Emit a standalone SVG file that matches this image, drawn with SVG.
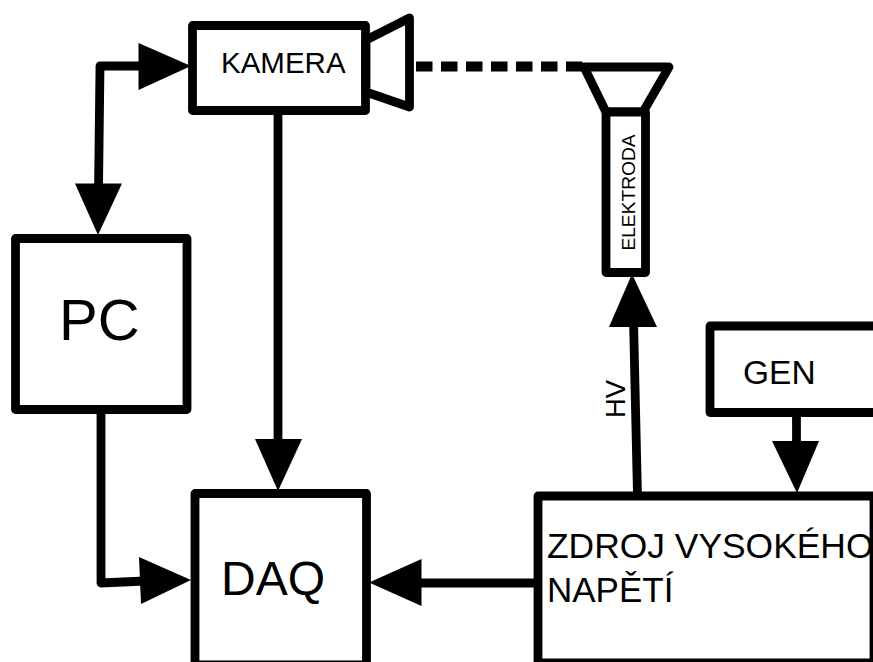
<svg xmlns="http://www.w3.org/2000/svg" width="873" height="662" viewBox="0 0 873 662">
<style>
.b{fill:#fff;stroke:#000;stroke-width:8.8;stroke-linejoin:round}
.l{fill:none;stroke:#000;stroke-width:8.8;stroke-linejoin:round}
.h{fill:#000;stroke:none}
text{font-family:"Liberation Sans",Arial,sans-serif;fill:#000}
</style>
<rect width="873" height="662" fill="#fff"/>
<g id="connectors">
<path class="l" d="M145 66H100L98.500 190"/>
<path class="h" d="M138.500 43L191 66L138.500 90Z"/>
<path class="h" d="M75 183.500H122L98 235Z"/>
<path class="l" d="M278 110V445"/>
<path class="h" d="M255 439H302L278 491Z"/>
<path class="l" d="M101 410V583L145 581"/>
<path class="h" d="M139 557L191 580L141 604Z"/>
<path class="l" d="M538 583H415"/>
<path class="h" d="M421.500 559V606L369 582.500Z"/>
<path class="l" d="M637.500 496L633.500 320"/>
<path class="h" d="M609 327H657L632 274Z"/>
<path class="l" d="M796.500 412V447"/>
<path class="h" d="M772 441H819L797 493Z"/>
<path d="M416 66.500H585" fill="none" stroke="#000" stroke-width="10" stroke-dasharray="16.500 8.500"/>
</g>
<g id="kamera">
<rect class="b" x="192.500" y="25.500" width="173" height="85"/>
<path class="b" d="M366 40L409.500 18V107L366 92Z"/>
<text x="221" y="72.500" font-size="29.500">KAMERA</text>
</g>
<g id="elektroda">
<path class="b" d="M584 67H669L643 112H606Z"/>
<rect class="b" x="606" y="112" width="39.500" height="160.500"/>
<text transform="translate(635 192.500) rotate(-90)" font-size="19.200" text-anchor="middle">ELEKTRODA</text>
</g>
<g id="pc">
<rect class="b" x="15.500" y="238.500" width="171.500" height="171"/>
<text x="59" y="340" font-size="58">PC</text>
</g>
<g id="gen">
<path class="b" d="M880 326H710V412.500H880"/>
<text x="743" y="384" font-size="33.500">GEN</text>
</g>
<g id="daq">
<rect class="b" x="195" y="493.500" width="171.500" height="171.500"/>
<text x="221" y="595" font-size="48">DAQ</text>
</g>
<g id="zdroj">
<rect class="b" x="538" y="496" width="336" height="167"/>
<text x="547" y="558" font-size="35.400">ZDROJ VYSOKÉHO</text>
<text x="547" y="602" font-size="35">NAPĚTÍ</text>
</g>
<g id="hv"><text transform="translate(625 418) rotate(-90)" font-size="27.500">HV</text></g>
</svg>
